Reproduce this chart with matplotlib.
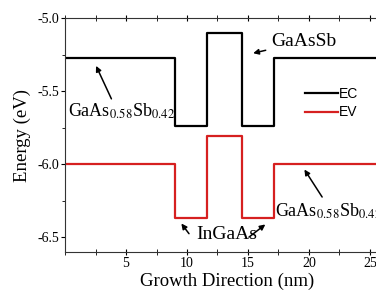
import matplotlib
matplotlib.use("Agg")
import matplotlib.pyplot as plt
from matplotlib.ticker import MultipleLocator

plt.rcParams["font.family"] = "Liberation Serif"
plt.rcParams["mathtext.fontset"] = "stix"

# band edges (step profile)
x_edges = [0, 9.0, 11.65, 14.5, 17.1, 27]
ec_levels = [-5.275, -5.74, -5.10, -5.74, -5.275]
ev_levels = [-6.0, -6.37, -5.81, -6.37, -6.0]

def steps(edges, levels):
    xs, ys = [], []
    for i, lv in enumerate(levels):
        xs += [edges[i], edges[i + 1]]
        ys += [lv, lv]
    return xs, ys

fig = plt.figure(figsize=(3.76, 2.96), dpi=100)
xmax = 26.5
ax = fig.add_axes([65 / 376, 44 / 296, xmax * 12.2 / 376, 234 / 296])

xs, ys = steps(x_edges, ec_levels)
ax.plot(xs, ys, color="black", lw=1.6, label="EC")
xs, ys = steps(x_edges, ev_levels)
ax.plot(xs, ys, color="#d62020", lw=1.6, label="EV")

ax.set_xlim(0, xmax)
ax.set_ylim(-6.6, -5.0)
ax.xaxis.set_major_locator(MultipleLocator(5))
ax.xaxis.set_minor_locator(MultipleLocator(2.5))
ax.yaxis.set_major_locator(MultipleLocator(0.5))
ax.yaxis.set_minor_locator(MultipleLocator(0.25))
ax.set_yticks([-5.0, -5.5, -6.0, -6.5])
ax.set_yticklabels(["-5.0", "-5.5", "-6.0", "-6.5"])
ax.xaxis.set_ticks([5, 10, 15, 20, 25])
ax.tick_params(axis="x", which="both", direction="inout", top=True, labelsize=10, length=5, pad=1)
ax.tick_params(axis="y", which="both", direction="out", labelsize=10, length=3, pad=1)
ax.tick_params(axis="y", which="minor", length=2)
ax.spines["right"].set_visible(False)
for s in ax.spines.values():
    s.set_color("#333333")

ax.set_xlabel("Growth Direction (nm)", fontsize=13.5, labelpad=2)
ax.set_ylabel("Energy (eV)", fontsize=13.5, labelpad=5)

arr = dict(arrowstyle="-|>", color="black", lw=1.1, mutation_scale=8)
ax.text(0.25, -5.64, "GaAs$_{0.58}$Sb$_{0.42}$", fontsize=13, ha="left", va="center")
ax.annotate("", xy=(2.45, -5.31), xytext=(3.9, -5.57), arrowprops=arr)
ax.annotate("GaAsSb", xy=(15.2, -5.245), xytext=(16.9, -5.16),
            fontsize=14, ha="left", va="center", arrowprops=arr)
ax.text(17.2, -6.32, "GaAs$_{0.58}$Sb$_{0.42}$", fontsize=13, ha="left", va="center")
ax.annotate("", xy=(19.5, -6.02), xytext=(21.2, -6.24), arrowprops=arr)
ax.text(13.3, -6.48, "InGaAs", fontsize=14, ha="center", va="center")
ax.annotate("", xy=(9.4, -6.39), xytext=(10.3, -6.49), arrowprops=arr)
ax.annotate("", xy=(16.6, -6.40), xytext=(14.9, -6.51), arrowprops=arr)

leg = ax.legend(loc="center left", bbox_to_anchor=(292 / 376, 193 / 296),
                bbox_transform=fig.transFigure, frameon=False,
                prop={"family": "Liberation Sans", "size": 10},
                handlelength=2.4, handletextpad=0.1, labelspacing=0.35)

fig.savefig("out.png", dpi=100)
